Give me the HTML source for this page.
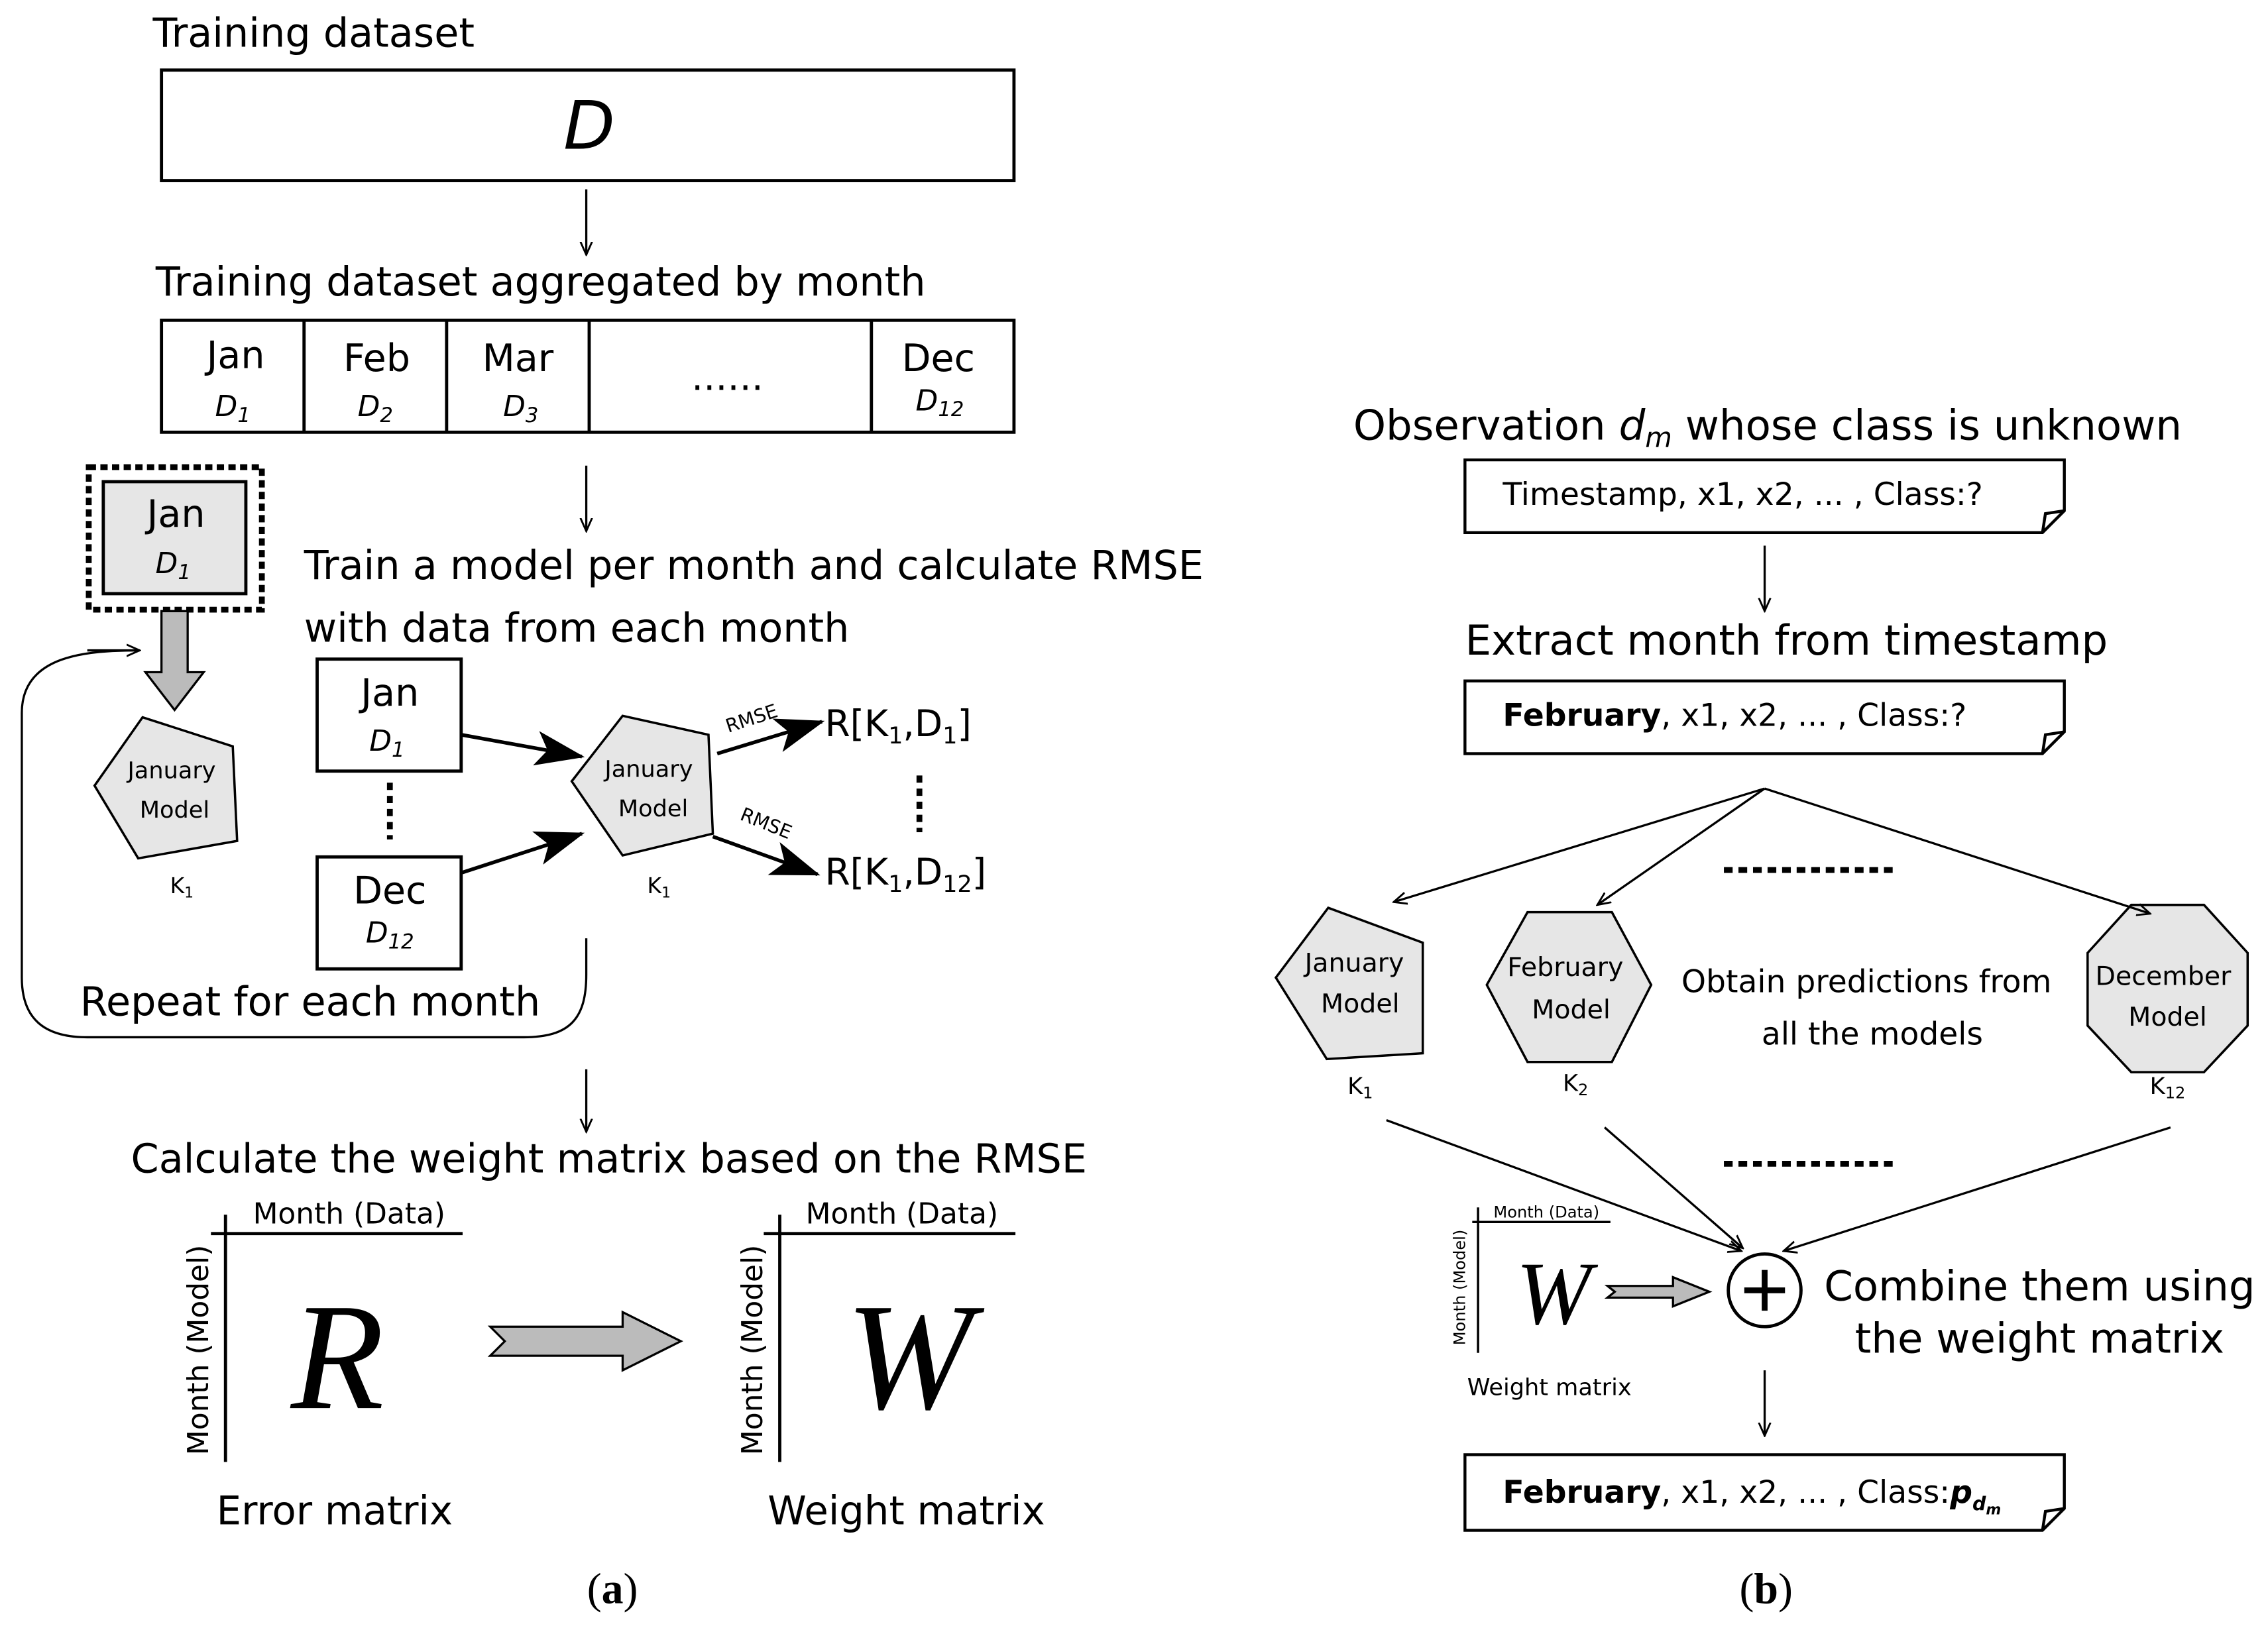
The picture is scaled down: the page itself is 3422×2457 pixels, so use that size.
<!DOCTYPE html>
<html><head><meta charset="utf-8"><style>
html,body{margin:0;padding:0;background:#fff;}
svg{display:block;}
text{font-family:"DejaVu Sans","Liberation Sans",sans-serif;fill:#000;}
</style></head><body>
<svg width="3422" height="2457" viewBox="0 0 1559 1119" xmlns="http://www.w3.org/2000/svg">
<defs>
<marker id="ah" markerWidth="10" markerHeight="10" refX="9" refY="5" orient="auto" markerUnits="userSpaceOnUse"><path d="M0,1 L9,5 L0,9" fill="none" stroke="#000" stroke-width="1.3"/></marker>
<marker id="big" markerWidth="34" markerHeight="24" refX="32" refY="12" orient="auto" markerUnits="userSpaceOnUse"><path d="M0,0 L34,12 L0,24 L8,12 Z" fill="#000"/></marker>
</defs>
<g stroke="#000" stroke-width="2.2" fill="none">
<rect x="111" y="48" width="586" height="76"/>
<rect x="111" y="220" width="586" height="77"/>
<line x1="209" y1="220" x2="209" y2="297"/><line x1="307" y1="220" x2="307" y2="297"/>
<line x1="405" y1="220" x2="405" y2="297"/><line x1="599" y1="220" x2="599" y2="297"/>
<rect x="61" y="321" width="119" height="98" stroke-dasharray="5,3" stroke-width="4"/>
<rect x="71" y="331" width="98" height="77" fill="#e6e6e6"/>
<rect x="218" y="453" width="99" height="77"/>
<rect x="218" y="589" width="99" height="77"/>
<path d="M96,447 C60,447 15,450 15,490 L15,672 C15,700 30,713 60,713 L360,713 C392,713 403,700 403,670 L403,645" stroke-width="1.5"/>
<line x1="268" y1="538" x2="268" y2="577" stroke-width="4" stroke-dasharray="5,4"/>
<line x1="632" y1="533" x2="632" y2="572" stroke-width="4" stroke-dasharray="5,4"/>
<polygon points="98,493 160,513 163,578 95,590 65,540" fill="#e6e6e6" stroke-width="1.6"/>
<polygon points="428,492 487,505 490,573 428,588 393,537" fill="#e6e6e6" stroke-width="1.6"/>
<line x1="145" y1="848" x2="318" y2="848"/><line x1="155" y1="835" x2="155" y2="1005"/>
<line x1="525" y1="848" x2="698" y2="848"/><line x1="536" y1="835" x2="536" y2="1005"/>
<polygon points="913,624 978,648 978,724 912,728 877,672" fill="#e6e6e6" stroke-width="1.6"/>
<polygon points="1050,627 1108,627 1135,677 1108,730 1050,730 1022,677" fill="#e6e6e6" stroke-width="1.6"/>
<polygon points="1465,622 1515,622 1545,655 1545,705 1515,737 1465,737 1435,705 1435,655" fill="#e6e6e6" stroke-width="1.6"/>
<line x1="1185" y1="598" x2="1305" y2="598" stroke-width="4" stroke-dasharray="6,4"/>
<line x1="1185" y1="800" x2="1305" y2="800" stroke-width="4" stroke-dasharray="6,4"/>
<line x1="1012" y1="840" x2="1107" y2="840" stroke-width="1.6"/><line x1="1016" y1="830" x2="1016" y2="930" stroke-width="1.6"/>
<circle cx="1213" cy="887" r="25"/>
<line x1="1213" y1="873" x2="1213" y2="901" stroke-width="4"/><line x1="1199" y1="887" x2="1227" y2="887" stroke-width="4"/>
</g>
<path d="M60,447 L96,447" stroke="#000" stroke-width="1.5" marker-end="url(#ah)"/>
<g stroke="#000" stroke-width="2" fill="#fff">
<path d="M1007,316 H1419 V351 L1404,366 H1007 Z"/><path d="M1404,366 L1406,353 L1419,351" fill="none"/>
<path d="M1007,468 H1419 V503 L1404,518 H1007 Z"/><path d="M1404,518 L1406,505 L1419,503" fill="none"/>
<path d="M1007,1000 H1419 V1037 L1404,1052 H1007 Z"/><path d="M1404,1052 L1406,1039 L1419,1037" fill="none"/>
</g>
<g stroke="#000" stroke-width="1.5" marker-end="url(#ah)">
<line x1="403" y1="130" x2="403" y2="175"/>
<line x1="403" y1="320" x2="403" y2="365"/>
<line x1="403" y1="735" x2="403" y2="778"/>
<line x1="1213" y1="375" x2="1213" y2="420"/>
<line x1="1213" y1="942" x2="1213" y2="987"/>
<line x1="1213" y1="542" x2="958" y2="620"/>
<line x1="1213" y1="542" x2="1098" y2="622"/>
<line x1="1213" y1="542" x2="1478" y2="628"/>
<line x1="953" y1="770" x2="1197" y2="860"/>
<line x1="1103" y1="775" x2="1198" y2="858"/>
<line x1="1492" y1="775" x2="1226" y2="860"/>
</g>
<g stroke="#000" stroke-width="2.5" marker-end="url(#big)">
<line x1="317" y1="505" x2="400" y2="520"/>
<line x1="317" y1="600" x2="400" y2="573"/>
<line x1="493" y1="518" x2="565" y2="496"/>
<line x1="490" y1="575" x2="562" y2="601"/>
</g>
<g fill="#bbb" stroke="#000" stroke-width="1.5">
<path d="M111,420 H129 V462 H140 L120,488 L100,462 H111 Z"/>
<path d="M337,912 H428 V902 L468,922 L428,942 V932 H337 L347,922 Z"/>
<path d="M1105,884 H1150 V878 L1175,888 L1150,898 V892 H1105 L1110,888 Z"/>
</g>
<text x="105" y="32" font-size="27.5">Training dataset</text>
<text x="405" y="102" font-size="46" font-style="italic" text-anchor="middle">D</text>
<text x="107" y="203" font-size="27.5">Training dataset aggregated by month</text>
<g font-size="26" text-anchor="middle">
<text x="162" y="253">Jan</text><text x="259" y="255">Feb</text><text x="356" y="255">Mar</text><text x="645" y="255">Dec</text>
<text x="500" y="268">......</text>
<text x="121" y="362">Jan</text>
<text x="268" y="485">Jan</text><text x="268" y="621">Dec</text>
</g>
<g font-size="20" font-style="italic" text-anchor="middle">
<text x="160" y="286">D<tspan font-size="14" dy="4">1</tspan></text>
<text x="258" y="286">D<tspan font-size="14" dy="4">2</tspan></text>
<text x="358" y="286">D<tspan font-size="14" dy="4">3</tspan></text>
<text x="646" y="282">D<tspan font-size="14" dy="4">12</tspan></text>
<text x="119" y="394">D<tspan font-size="14" dy="4">1</tspan></text>
<text x="266" y="516">D<tspan font-size="14" dy="4">1</tspan></text>
<text x="268" y="648">D<tspan font-size="14" dy="4">12</tspan></text>
</g>
<g font-size="16" text-anchor="middle">
<text x="118" y="535">January</text><text x="120" y="562">Model</text>
<text x="446" y="534">January</text><text x="449" y="561">Model</text>
</g>
<text x="125" y="614" font-size="15" text-anchor="middle">K<tspan font-size="10" dy="3">1</tspan></text>
<text x="453" y="614" font-size="15" text-anchor="middle">K<tspan font-size="10" dy="3">1</tspan></text>
<text x="209" y="398" font-size="27.5">Train a model per month and calculate RMSE</text>
<text x="209" y="441" font-size="27.5">with data from each month</text>
<text x="518" y="498" font-size="13" transform="rotate(-18 518 498)" text-anchor="middle">RMSE</text>
<text x="525" y="570" font-size="13" transform="rotate(22 525 570)" text-anchor="middle">RMSE</text>
<text x="567" y="506" font-size="25">R[K<tspan font-size="16" dy="5">1</tspan><tspan dy="-5">,D</tspan><tspan font-size="16" dy="5">1</tspan><tspan dy="-5">]</tspan></text>
<text x="567" y="608" font-size="25">R[K<tspan font-size="16" dy="5">1</tspan><tspan dy="-5">,D</tspan><tspan font-size="16" dy="5">12</tspan><tspan dy="-5">]</tspan></text>
<text x="55" y="698" font-size="27.5">Repeat for each month</text>
<text x="90" y="806" font-size="27.5">Calculate the weight matrix based on the RMSE</text>
<text x="240" y="841" font-size="20" text-anchor="middle">Month (Data)</text>
<text x="620" y="841" font-size="20" text-anchor="middle">Month (Data)</text>
<text x="143" y="928" font-size="20" text-anchor="middle" transform="rotate(-90 143 928)">Month (Model)</text>
<text x="524" y="928" font-size="20" text-anchor="middle" transform="rotate(-90 524 928)">Month (Model)</text>
<text x="232" y="968" font-size="105" font-style="italic" text-anchor="middle" style="font-family:'Liberation Serif',serif">R</text>
<text x="625" y="968" font-size="105" font-style="italic" text-anchor="middle" style="font-family:'Liberation Serif',serif">W</text>
<text x="230" y="1048" font-size="27" text-anchor="middle">Error matrix</text>
<text x="623" y="1048" font-size="27" text-anchor="middle">Weight matrix</text>
<text x="421" y="1102" font-size="30" text-anchor="middle" style="font-family:'Liberation Serif',serif">(<tspan font-weight="bold">a</tspan>)</text>
<text x="1215" y="302" font-size="28.5" text-anchor="middle">Observation <tspan font-style="italic">d</tspan><tspan font-style="italic" font-size="19" dy="5">m</tspan><tspan dy="-5"> whose class is unknown</tspan></text>
<text x="1033" y="347" font-size="21.5">Timestamp, x1, x2, ... , Class:?</text>
<text x="1228" y="450" font-size="28.5" text-anchor="middle">Extract month from timestamp</text>
<text x="1033" y="499" font-size="21.5"><tspan font-weight="bold">February</tspan>, x1, x2, ... , Class:?</text>
<text x="1033" y="1033" font-size="21.5"><tspan font-weight="bold">February</tspan>, x1, x2, ... , Class:<tspan font-weight="bold" font-style="italic">p</tspan><tspan font-weight="bold" font-style="italic" font-size="13" dy="5">d</tspan><tspan font-weight="bold" font-style="italic" font-size="10" dy="3">m</tspan></text>
<g font-size="18" text-anchor="middle">
<text x="931" y="668">January</text><text x="935" y="696">Model</text>
<text x="1076" y="671">February</text><text x="1080" y="700">Model</text>
<text x="1487" y="677">December</text><text x="1490" y="705">Model</text>
</g>
<text x="935" y="752" font-size="16" text-anchor="middle">K<tspan font-size="11" dy="3">1</tspan></text>
<text x="1083" y="750" font-size="16" text-anchor="middle">K<tspan font-size="11" dy="3">2</tspan></text>
<text x="1490" y="752" font-size="16" text-anchor="middle">K<tspan font-size="11" dy="3">12</tspan></text>
<text x="1283" y="682" font-size="21.5" text-anchor="middle">Obtain predictions from</text>
<text x="1287" y="718" font-size="21.5" text-anchor="middle">all the models</text>
<text x="1063" y="837" font-size="11" text-anchor="middle">Month (Data)</text>
<text x="1007" y="885" font-size="11" text-anchor="middle" transform="rotate(-90 1007 885)">Month (Model)</text>
<text x="1068" y="910" font-size="62" font-style="italic" text-anchor="middle" style="font-family:'Liberation Serif',serif">W</text>
<text x="1065" y="959" font-size="16" text-anchor="middle">Weight matrix</text>
<text x="1402" y="894" font-size="28.5" text-anchor="middle">Combine them using</text>
<text x="1402" y="930" font-size="28.5" text-anchor="middle">the weight matrix</text>
<text x="1214" y="1102" font-size="30" text-anchor="middle" style="font-family:'Liberation Serif',serif">(<tspan font-weight="bold">b</tspan>)</text>
</svg>
</body></html>
